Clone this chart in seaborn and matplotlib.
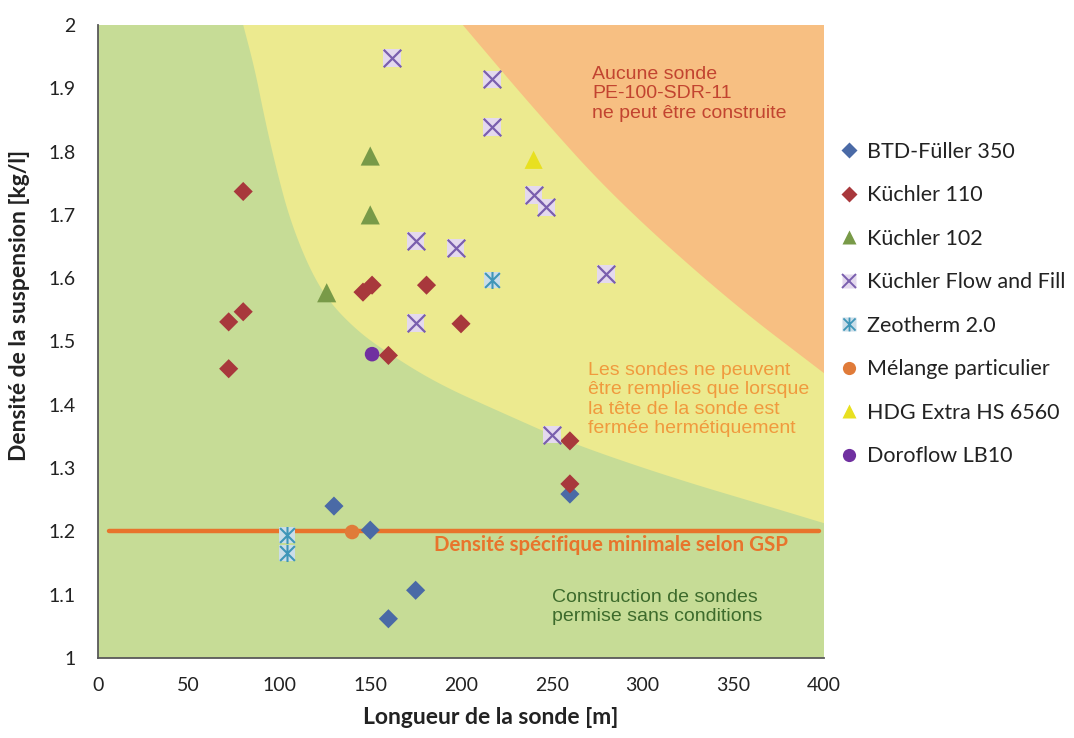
import numpy as np
import pandas as pd
import matplotlib
matplotlib.use("Agg")
import matplotlib.pyplot as plt
import seaborn as sns
from matplotlib.lines import Line2D
from matplotlib.path import Path
from matplotlib.ticker import FuncFormatter

# ---------------- data ----------------
btd_x = [130, 150, 175, 160, 260]
btd_y = [1.240, 1.202, 1.107, 1.062, 1.259]

k110_x = [80, 72, 80, 72, 146, 151, 181, 200, 160, 260, 260]
k110_y = [1.737, 1.531, 1.547, 1.457, 1.578, 1.589, 1.589, 1.528, 1.478, 1.343, 1.275]

k102_x = [150, 150, 126]
k102_y = [1.793, 1.700, 1.577]

flow_x = [162, 217, 217, 240, 247, 175, 197, 280, 175, 250]
flow_y = [1.948, 1.914, 1.839, 1.731, 1.712, 1.659, 1.648, 1.607, 1.529, 1.353]

zeo_x = [217, 104, 104]
zeo_y = [1.597, 1.194, 1.166]

mel_x = [140]
mel_y = [1.199]

hdg_x = [240]
hdg_y = [1.787]

doro_x = [151]
doro_y = [1.480]

gsp_x = [6, 397]
gsp_y = [1.2, 1.2]

# zone boundaries
yellow_bx = [80, 86.5, 92, 98.4, 105.8, 116.8, 127.8, 142.5, 157, 186.6, 223, 260, 315, 370, 400]
yellow_by = [2.0, 1.929, 1.85, 1.771, 1.692, 1.613, 1.561, 1.518, 1.487, 1.434, 1.387, 1.34, 1.286, 1.239, 1.213]
orange_bx = [201, 240, 284, 347, 400]
orange_by = [2.0, 1.868, 1.728, 1.566, 1.45]

labels = ["BTD-Füller 350", "Küchler 110", "Küchler 102", "Küchler Flow and Fill",
          "Zeotherm 2.0", "Mélange particulier", "HDG Extra HS 6560", "Doroflow LB10"]

x_ticks = [0, 50, 100, 150, 200, 250, 300, 350, 400]
y_ticks = [1.0, 1.1, 1.2, 1.3, 1.4, 1.5, 1.6, 1.7, 1.8, 1.9, 2.0]

# ---------------- style ----------------
C_GREEN_BG = "#c6dc96"
C_YELLOW_BG = "#ecea8f"
C_ORANGE_BG = "#f7bf82"
C_BTD = "#4a6aa6"
C_K110 = "#a8383c"
C_K102 = "#789a48"
C_FLOW = "#7a5fae"
C_FLOW_BG = "#e4d9ee"
C_ZEO = "#3f96b8"
C_ZEO_BG = "#cadde8"
C_MEL = "#e07b39"
C_HDG = "#e8e020"
C_DORO = "#7030a0"
C_GSP = "#e8742c"

sns.set_style("white")
plt.rcParams["font.family"] = ["Lato", "DejaVu Sans"]

fig = plt.figure(figsize=(10.74, 7.38), dpi=100)
ax = fig.add_axes([98 / 1074, 1 - 658 / 738, (824 - 98) / 1074, (658 - 25) / 738])


def chaikin(xs, ys, n=4):
    pts = np.column_stack([xs, ys]).astype(float)
    sc = np.array([400.0, 1.6])
    pts = pts / sc
    for _ in range(n):
        new = [pts[0]]
        for i in range(len(pts) - 1):
            p, q = pts[i], pts[i + 1]
            new.append(0.75 * p + 0.25 * q)
            new.append(0.25 * p + 0.75 * q)
        new.append(pts[-1])
        pts = np.array(new)
    pts = pts * sc
    return pts[:, 0], pts[:, 1]


ax.set_facecolor(C_GREEN_BG)
yx, yy = chaikin(yellow_bx, yellow_by)
ax.fill(np.concatenate([yx, [400, 80]]), np.concatenate([yy, [2.0, 2.0]]),
        color=C_YELLOW_BG, lw=0, zorder=0.5)
ox, oy = chaikin(orange_bx, orange_by)
ax.fill(np.concatenate([ox, [400]]), np.concatenate([oy, [2.0]]),
        color=C_ORANGE_BG, lw=0, zorder=0.6)

# GSP line
sns.lineplot(x=gsp_x, y=gsp_y, ax=ax, color=C_GSP, lw=3.2, zorder=2, legend=False)

# asterisk marker (vertical line + X)
ast = Path([(0, -1), (0, 1), (-0.87, -0.87), (0.87, 0.87), (-0.87, 0.87), (0.87, -0.87)],
           [Path.MOVETO, Path.LINETO, Path.MOVETO, Path.LINETO, Path.MOVETO, Path.LINETO])

sns.scatterplot(x=btd_x, y=btd_y, ax=ax, marker="D", s=95, color=C_BTD, edgecolor="none", zorder=3)
sns.scatterplot(x=k110_x, y=k110_y, ax=ax, marker="D", s=95, color=C_K110, edgecolor="none", zorder=3)
sns.scatterplot(x=k102_x, y=k102_y, ax=ax, marker="^", s=190, color=C_K102, edgecolor="none", zorder=3)
sns.scatterplot(x=flow_x, y=flow_y, ax=ax, marker="s", s=160, color=C_FLOW_BG, edgecolor="none", zorder=3)
sns.scatterplot(x=flow_x, y=flow_y, ax=ax, marker="x", s=160, color=C_FLOW, linewidth=1.6, zorder=3.1)
sns.scatterplot(x=zeo_x, y=zeo_y, ax=ax, marker="s", s=140, color=C_ZEO_BG, edgecolor="none", zorder=3)
sns.scatterplot(x=zeo_x, y=zeo_y, ax=ax, marker=ast, s=150, color=C_ZEO, edgecolor=C_ZEO, linewidth=1.5, zorder=3.1)
sns.scatterplot(x=mel_x, y=mel_y, ax=ax, marker="o", s=110, color=C_MEL, edgecolor="none", zorder=3)
sns.scatterplot(x=hdg_x, y=hdg_y, ax=ax, marker="^", s=170, color=C_HDG, edgecolor="none", zorder=3)
sns.scatterplot(x=doro_x, y=doro_y, ax=ax, marker="o", s=110, color=C_DORO, edgecolor="none", zorder=3)

ax.set_xlim(0, 400)
ax.set_ylim(1, 2)
ax.set_xticks(x_ticks)
ax.set_yticks(y_ticks)
ax.yaxis.set_major_formatter(FuncFormatter(lambda v, p: f"{v:.1f}".rstrip("0").rstrip(".")))
ax.xaxis.set_major_formatter(FuncFormatter(lambda v, p: f"{v:.0f}"))
for s in ["top", "right"]:
    ax.spines[s].set_visible(False)
for s in ["left", "bottom"]:
    ax.spines[s].set_color("#595959")
    ax.spines[s].set_linewidth(1.3)
ax.tick_params(axis="both", direction="out", length=6, width=1.2, color="#595959",
               labelsize=14, labelcolor="#222222")
ax.tick_params(axis="y", pad=10)
ax.tick_params(axis="x", pad=8)
ax.grid(False)

ax.set_xlabel("Longueur de la sonde [m]", fontsize=16.5, fontweight="bold", color="#222222")
ax.set_ylabel("Densité de la suspension [kg/l]", fontsize=16.5, fontweight="bold", color="#222222")
ax.xaxis.set_label_coords((491 - 98) / 726, -(707 - 658) / 633)
ax.yaxis.set_label_coords(-(98 - 30) / 726, (658 - 305) / 633)

# annotations
arial = ["Liberation Sans", "DejaVu Sans"]
ax.text(592 / 1074, 1 - 66 / 738, "Aucune sonde\nPE-100-SDR-11\nne peut être construite",
        transform=fig.transFigure, ha="left", va="top", fontsize=14, color="#c24430",
        family=arial, linespacing=1.18)
ax.text(588 / 1074, 1 - 362 / 738,
        "Les sondes ne peuvent\nêtre remplies que lorsque\nla tête de la sonde est\nfermée hermétiquement",
        transform=fig.transFigure, ha="left", va="top", fontsize=14, color="#f09a3e",
        family=arial, linespacing=1.18)
ax.text(611 / 1074, 1 - 545 / 738, "Densité spécifique minimale selon GSP",
        transform=fig.transFigure, ha="center", va="center", fontsize=14.8, fontweight="bold",
        color=C_GSP)
ax.text(552 / 1074, 1 - 589 / 738, "Construction de sondes\npermise sans conditions",
        transform=fig.transFigure, ha="left", va="top", fontsize=14, color="#3d6b2c",
        family=arial, linespacing=1.18)

# legend
h = [
    Line2D([], [], ls="", marker="D", ms=8, mfc=C_BTD, mec="none"),
    Line2D([], [], ls="", marker="D", ms=8, mfc=C_K110, mec="none"),
    Line2D([], [], ls="", marker="^", ms=10, mfc=C_K102, mec="none"),
    (Line2D([], [], ls="", marker="s", ms=10, mfc=C_FLOW_BG, mec="none"),
     Line2D([], [], ls="", marker="x", ms=10, mec=C_FLOW, mew=1.4)),
    (Line2D([], [], ls="", marker="s", ms=10, mfc=C_ZEO_BG, mec="none"),
     Line2D([], [], ls="", marker=ast, ms=10, mec=C_ZEO, mew=1.3)),
    Line2D([], [], ls="", marker="o", ms=9.5, mfc=C_MEL, mec="none"),
    Line2D([], [], ls="", marker="^", ms=10, mfc=C_HDG, mec="none"),
    Line2D([], [], ls="", marker="o", ms=9.5, mfc=C_DORO, mec="none"),
]
fig.legend(h, labels, loc="upper left", bbox_to_anchor=(840 / 1074, 1 - 142 / 738),
           frameon=False, fontsize=15.5, handlelength=0.8, handletextpad=0.45,
           labelspacing=1.09, borderaxespad=0, borderpad=0,
           labelcolor="#222222")

fig.savefig("out.png", dpi=100)
